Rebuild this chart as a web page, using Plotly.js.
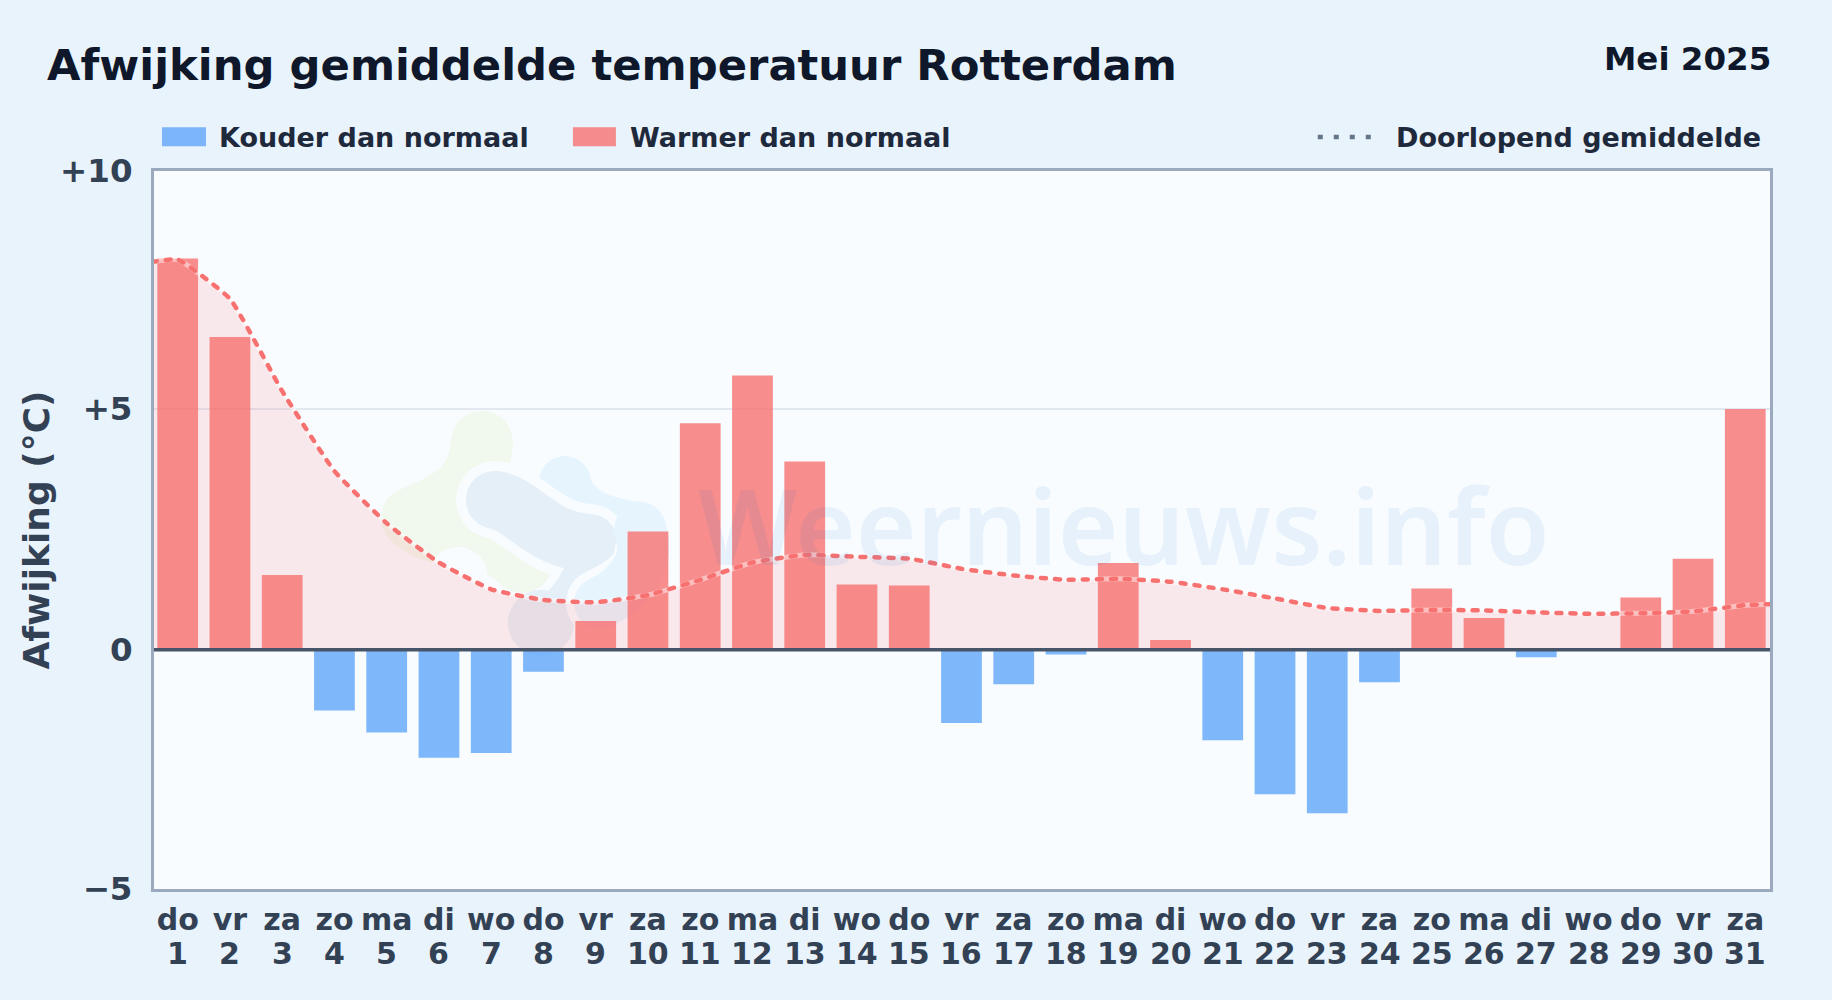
<!DOCTYPE html>
<html><head><meta charset="utf-8">
<script src="https://cdn.plot.ly/plotly-3.0.1.min.js"></script>
<style>html,body{margin:0;padding:0;background:#e8f3fc}#c{width:1832px;height:1000px}</style>
</head><body><div id="c"></div>
<script>
const days = ['do','vr','za','zo','ma','di','wo','do','vr','za','zo','ma','di','wo','do','vr','za','zo','ma','di','wo','do','vr','za','zo','ma','di','wo','do','vr','za'];
const dates = [1,2,3,4,5,6,7,8,9,10,11,12,13,14,15,16,17,18,19,20,21,22,23,24,25,26,27,28,29,30,31];
const anomaly = [8.17,6.53,1.56,-1.27,-1.73,-2.26,-2.16,-0.46,0.6,2.47,4.73,5.73,3.93,1.36,1.34,-1.53,-0.72,-0.1,1.81,0.2,-1.89,-3.02,-3.42,-0.68,1.28,0.66,-0.16,0,1.09,1.9,5.03];
const meanX = [0.5,1,2,3,4,5,6,7,8,9,10,11,12,13,14,15,16,17,18,19,20,21,22,23,24,25,26,27,28,29,30,31,31.5];
const meanY = [8.1,8.15,7.33,5.4,3.73,2.64,1.82,1.26,1.04,0.99,1.14,1.46,1.82,1.98,1.94,1.9,1.69,1.55,1.46,1.48,1.42,1.26,1.07,0.87,0.81,0.83,0.82,0.78,0.75,0.76,0.8,0.93,0.95];
const tickVals = [-5,0,5.03,10];
const tickText = ['−5','0','+5','+10'];
const FONT = 'DejaVu Sans';
const COLD='rgba(96,165,250,0.8)', WARM='rgba(248,113,113,0.8)', LINE='#f87171';
const PL=154, PR=1770.3, PT=170.7, PB=889.5;
const lx=px=>(px-PL)/(PR-PL), ly=py=>1-(py-PT)/(PB-PT);
const BG='#f8fcff';
const logo = 'data:image/svg+xml;utf8,' + encodeURIComponent(
 '<svg xmlns="http://www.w3.org/2000/svg" width="320" height="260" viewBox="370 400 320 260" fill="none" stroke-linecap="round" stroke-linejoin="round">'+
 '<path d="M482 442 C480 480 460 500 412 518 C440 545 490 530 522 562" stroke="#f1f8ed" stroke-width="62"/>'+
 '<circle cx="458" cy="577" r="30" fill="'+BG+'"/>'+
 '<path d="M565 482 C570 515 610 525 640 528" stroke="#e6f4fd" stroke-width="52"/>'+
 '<path d="M495 500 C525 505 540 540 589 543" stroke="'+BG+'" stroke-width="78"/>'+
 '<path d="M495 500 C525 505 540 540 589 543" stroke="#e4eff8" stroke-width="58"/>'+
 '<path d="M582 560 C575 585 560 600 545 615" stroke="#e4eff8" stroke-width="28"/>'+
 '<circle cx="541" cy="623" r="33" fill="#e4eff8"/>'+
 '<path d="M648 555 C650 570 630 590 600 603" stroke="'+BG+'" stroke-width="68"/>'+
 '<path d="M640 530 C652 560 630 590 600 603" stroke="#e6f4fd" stroke-width="52"/>'+
 '</svg>');
const data = [
 {type:'scatter',x:meanX,y:meanY,mode:'lines',fill:'tozeroy',fillcolor:'rgba(248,113,113,0.14)',
  line:{color:'rgba(255,255,255,0.45)',width:5,shape:'spline',smoothing:0.4},hoverinfo:'skip',showlegend:false},
 {type:'bar',x:dates,y:anomaly.map(v=>v<0?v:null),width:0.78,marker:{color:COLD,line:{width:0}},name:'Kouder dan normaal',showlegend:false},
 {type:'bar',x:dates,y:anomaly.map(v=>v>0?v:null),width:0.78,marker:{color:WARM,line:{width:0}},name:'Warmer dan normaal',showlegend:false},
 {type:'scatter',x:meanX,y:meanY,mode:'lines',line:{color:LINE,width:4.5,dash:'5px,9px',shape:'spline',smoothing:0.4},name:'Doorlopend gemiddelde',hoverinfo:'skip',showlegend:false}
];
const note=(text,px,py,anchor,size,color)=>({text,xref:'paper',yref:'paper',x:lx(px),y:ly(py),xanchor:anchor,yanchor:'middle',showarrow:false,font:{family:FONT,size,weight:700,color}});
const layout = {
 width:1832,height:1000,margin:{l:PL,r:1832-PR,t:PT,b:1000-PB},
 paper_bgcolor:'#e8f3fc',plot_bgcolor:BG,barmode:'overlay',showlegend:false,
 font:{family:FONT,color:'#334155'},
 xaxis:{range:[0.5465,31.473],tickmode:'array',tickvals:dates,ticktext:days,ticklabelstandoff:2,
  tickfont:{family:FONT,size:30,weight:700,color:'#334155'},ticks:'',showgrid:false,zeroline:false,
  showline:true,mirror:true,linecolor:'#9aa9bd',linewidth:3,automargin:false},
 yaxis:{range:[-5,10],tickmode:'array',tickvals:tickVals,ticktext:tickText,ticklabelstandoff:12,
  tickfont:{family:FONT,size:32.5,weight:700,color:'#334155'},ticks:'',showgrid:true,gridcolor:'#e2e8f0',gridwidth:2,
  zeroline:false,showline:true,mirror:true,linecolor:'#9aa9bd',linewidth:3,
  title:{text:'Afwijking (°C)',font:{family:FONT,size:36,weight:700,color:'#334155'},standoff:0},automargin:false},
 images:[{source:logo,xref:'paper',yref:'paper',x:lx(370),y:ly(400),sizex:320/(PR-PL),sizey:260/(PB-PT),xanchor:'left',yanchor:'top',sizing:'stretch',layer:'below'}],
 shapes:[
  {type:'line',xref:'paper',yref:'y',x0:0,x1:1,y0:0,y1:0,line:{color:'#475569',width:3.5},layer:'above'},
  {type:'rect',xref:'paper',yref:'paper',x0:lx(162),x1:lx(206),y0:ly(127),y1:ly(146),fillcolor:COLD,line:{width:0}},
  {type:'rect',xref:'paper',yref:'paper',x0:lx(573),x1:lx(616),y0:ly(127),y1:ly(146),fillcolor:WARM,line:{width:0}},
  {type:'line',xref:'paper',yref:'paper',x0:lx(1318),x1:lx(1376),y0:ly(136.7),y1:ly(136.7),line:{color:'#64748b',width:4.5,dash:'5px,11px'}}
 ],
 annotations:[
  note('Afwijking gemiddelde temperatuur Rotterdam',45,64.2,'left',43.3,'#0f172a'),
  note('Mei 2025',1773,59,'right',32.5,'#0f172a'),
  note('Kouder dan normaal',217,136.7,'left',27,'#1e293b'),
  note('Warmer dan normaal',628,136.7,'left',27,'#1e293b'),
  note('Doorlopend gemiddelde',1763,136.7,'right',27,'#1e293b'),
  {text:'Weernieuws.info',xref:'paper',yref:'paper',x:lx(1124),y:ly(525),xanchor:'center',yanchor:'middle',showarrow:false,font:{family:'Noto Sans',size:104,weight:600,color:'rgba(30,120,200,0.08)'}},
  ...dates.map(d=>({text:String(d),xref:'x',yref:'paper',x:d,y:ly(954),xanchor:'center',yanchor:'middle',showarrow:false,font:{family:FONT,size:30,weight:700,color:'#334155'}}))
 ]
};
Plotly.newPlot('c',data,layout,{displayModeBar:false,staticPlot:true}).then(()=>{
 document.querySelectorAll('.scatterlayer .trace:last-child path.js-line').forEach(p=>p.style.strokeLinecap='round');
});
</script></body></html>
